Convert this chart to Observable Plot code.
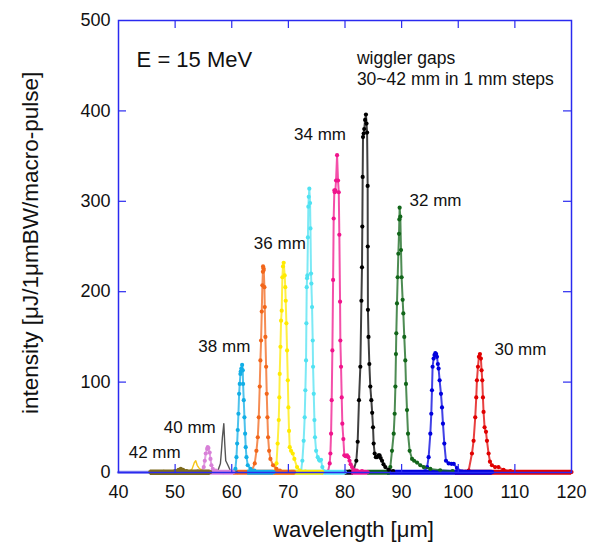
<!DOCTYPE html>
<html><head><meta charset="utf-8">
<script src="https://cdn.jsdelivr.net/npm/d3@7"></script>
<script src="https://cdn.jsdelivr.net/npm/@observablehq/plot@0.6"></script>
<style>body{margin:0;background:#fff;}</style>
</head><body><div id="chart"></div>
<script>
// ---- data ----
const xTicks = [40, 50, 60, 70, 80, 90, 100, 110, 120];
const yTicks = [0, 100, 200, 300, 400, 500];
const xInnerTicks = [50, 60, 70, 80, 90, 100, 110];
const yInnerTicks = [100, 200, 300, 400];

// [wavelength µm, intensity] per wiggler gap
const gap30 = [[99.5,0.5],[101.3,0.8],[101.83,2],[102.42,21],[102.71,35],[103.0,61],[103.18,83],[103.3,102],[103.48,117],[103.65,128],[103.83,131],[104.0,126],[104.12,113],[104.24,102],[104.36,83],[104.47,67],[104.65,50],[104.9,45],[105.07,35],[105.36,21],[105.6,12],[105.95,8],[106.5,6],[107.1,6],[108,3],[109.2,1.5],[110,0.8],[120,0.5]];
const gap31 = [[87.5,0.5],[94.0,1],[94.5,6],[94.77,17],[95.07,43],[95.24,65],[95.36,91],[95.47,117],[95.65,126],[95.8,130],[95.95,132],[96.1,131],[96.24,128],[96.4,120],[96.53,115],[96.71,102],[96.95,87],[97.13,72],[97.3,54],[97.54,32],[97.83,13],[98.3,10],[98.8,9.6],[99.2,9.6],[99.77,5],[100.65,1],[106,0.5]];
const gap32 = [[84,0.5],[87.5,1],[88,6],[88.3,24],[88.6,43],[88.77,65],[88.9,95],[89.0,131],[89.06,154],[89.18,187],[89.3,216],[89.42,242],[89.54,264],[89.6,280],[89.65,293],[89.77,283],[89.89,246],[90.0,216],[90.18,191],[90.3,176],[90.47,150],[90.65,124],[90.77,98],[90.95,69],[91.13,43],[91.42,24],[91.84,15],[92.2,13],[92.72,11],[93.3,8],[93.9,6],[95.07,4],[96.8,2.5],[99,1.5]];
const gap33 = [[80.0,0.5],[80.8,1],[81.5,2.2],[82.0,13],[82.24,34],[82.47,80],[82.71,117],[82.9,190],[83.0,227],[83.06,272],[83.12,327],[83.18,371],[83.3,375],[83.4,380],[83.55,390],[83.7,396],[83.8,386],[83.9,376],[84.0,317],[84.02,250],[84.05,180],[84.15,150],[84.3,120],[84.47,95],[84.65,80],[84.8,66],[84.95,50],[85.06,32],[85.24,21],[85.45,17],[85.65,17],[85.9,19],[86.1,19],[86.3,16],[86.54,13],[86.8,9],[87.12,6],[87.7,3],[88.5,1.5]];
const gap34 = [[76.5,0.5],[77.0,1],[77.3,10],[77.42,21],[77.54,43],[77.65,80],[77.77,135],[77.9,213],[78.0,281],[78.12,312],[78.2,310],[78.3,312],[78.42,323],[78.6,351],[78.77,323],[78.9,310],[79.0,263],[79.13,189],[79.18,146],[79.3,117],[79.42,83],[79.53,54],[79.71,37],[79.88,19],[80.1,18],[80.36,19],[80.6,17],[80.8,13],[81.0,9],[81.24,6],[81.6,3],[82.1,2],[83,1.5],[84,0.5]];
const gap35 = [[70.5,0.5],[71.5,0.5],[72.24,1],[72.47,13],[72.7,35],[72.88,61],[73.0,91],[73.12,124],[73.18,165],[73.24,205],[73.3,215],[73.36,218],[73.45,260],[73.53,294],[73.6,305],[73.7,314],[73.83,298],[73.9,270],[74.0,220],[74.06,209],[74.18,183],[74.3,146],[74.36,117],[74.48,87],[74.6,58],[74.7,39],[74.9,24],[75.18,17],[75.4,14],[75.54,13],[75.77,14],[76.0,6],[76.36,1],[78,0.5],[80,0.5]];
const gap36 = [[67.5,0.5],[67.9,10],[68.1,32],[68.3,58],[68.4,83],[68.47,109],[68.6,139],[68.71,168],[68.82,179],[68.94,216],[69.05,228],[69.17,232],[69.35,218],[69.45,205],[69.53,190],[69.65,165],[69.77,135],[69.9,102],[70.0,72],[70.12,46],[70.24,28],[70.47,24],[70.77,21],[71.06,15],[71.53,6],[72,2],[73,1],[76,0.5]];
const gap37 = [[61,0.5],[63.5,1],[64.06,10],[64.36,24],[64.6,39],[64.77,61],[64.94,95],[65.06,124],[65.18,146],[65.3,178],[65.41,207],[65.5,222],[65.53,228],[65.6,226],[65.65,224],[65.77,205],[65.83,183],[65.94,150],[66.07,117],[66.18,87],[66.3,61],[66.42,39],[66.6,24],[66.83,15],[67.3,8],[67.9,4],[68.5,2],[71,0.5]];
const gap38 = [[58.5,0.5],[60.3,1],[60.65,4],[60.83,17],[60.95,32],[61.06,47],[61.18,65],[61.3,87],[61.41,98],[61.53,109],[61.6,112],[61.7,115],[61.83,119],[61.95,113],[62.0,98],[62.12,80],[62.24,61],[62.36,43],[62.47,28],[62.6,17],[62.83,8],[63.3,4],[64,2],[67.4,0.5]];
const gap39 = [[56.5,0.5],[57.5,1],[58.0,10],[58.18,24],[58.35,39],[58.6,54],[58.76,32],[58.94,13],[59.18,10],[59.47,6],[59.77,2],[61,0.5]];
const gap40 = [[53.5,0.5],[54.5,1],[55.06,6],[55.24,13],[55.41,21],[55.65,26],[55.76,28],[55.88,27],[56.1,22],[56.24,15],[56.41,8],[56.65,4],[57.2,2],[60.3,0.5]];
const gap41 = [[50.5,0.5],[52.5,1],[53.0,4],[53.4,11],[53.65,13],[53.9,8],[54.2,5],[54.8,2],[55.5,0.5]];
const gap42 = [[45.6,0.5],[48,0.8],[50,1.5],[50.6,3],[51.0,4],[51.4,3],[52,1.5],[54,1],[56.2,0.5]];
const extraBase = [[40,0.3],[45.6,0.3]];

// visible baseline spans of each spectrum [from, to] (µm)
const baseSpans = {30:[99.5,120],31:[87.5,106],32:[84,88],33:[80,81.5],34:[81.2,84],35:[70.5,80],36:[67.5,76.2],37:[60.3,71.2],38:[62.8,67.4],40:[53.5,60.3],42:[45.6,56.2]};

const labelText = ["30 mm", "32 mm", "34 mm", "36 mm", "38 mm", "40 mm", "42 mm"];
const labelX = [106.4, 91.4, 71.0, 63.9, 54.1, 48.0, 41.8];
const labelY = [136, 301, 374, 253.6, 139.5, 50.2, 22];

// ---- styles ----
const colors = {30:"#e00000",31:"#0000dd",32:"#12661a",33:"#000000",34:"#f0148c",35:"#50e2f2",36:"#ffea00",37:"#f2661a",38:"#12aee6",39:"#555555",40:"#d880d8",41:"#f5c518",42:"#7d6a1c"};
const seriesData = {30:gap30,31:gap31,32:gap32,33:gap33,34:gap34,35:gap35,36:gap36,37:gap37,38:gap38,39:gap39,40:gap40,41:gap41,42:gap42};
const noDots = new Set([39, 41]);
const blue = "#2a2af0";

const marks = [];
marks.push(Plot.line(extraBase, {x: d => d[0], y: d => d[1], stroke: "#8c8cf0", strokeWidth: 3}));
for (const g of [30,31,32,33,34,35,36,37,38,39,40,41,42]) {
  const pts = seriesData[g];
  const c = colors[g];
  if (baseSpans[g]) {
    marks.push(Plot.ruleY([0.3], {x1: baseSpans[g][0], x2: baseSpans[g][1], stroke: c, strokeWidth: g === 42 ? 5.5 : 5}));
  }
  marks.push(Plot.line(pts, {x: d => d[0], y: d => d[1], stroke: c, strokeWidth: noDots.has(g) ? 1.4 : 2, strokeOpacity: noDots.has(g) ? 1 : 0.75}));
  if (!noDots.has(g)) marks.push(Plot.dot(pts, {x: d => d[0], y: d => d[1], fill: c, r: 2.1}));
}

marks.push(Plot.frame({stroke: blue, strokeWidth: 1.5}));
marks.push(Plot.ruleX(xInnerTicks, {x: d => d, stroke: blue, strokeWidth: 1.2, insetTop: 444}));
marks.push(Plot.ruleX(xInnerTicks, {x: d => d, stroke: blue, strokeWidth: 1.2, insetBottom: 444}));
marks.push(Plot.ruleY(yInnerTicks, {y: d => d, stroke: blue, strokeWidth: 1.2, insetRight: 445}));
marks.push(Plot.ruleY(yInnerTicks, {y: d => d, stroke: blue, strokeWidth: 1.2, insetLeft: 445}));

marks.push(Plot.text(labelText, {x: (d, i) => labelX[i], y: (d, i) => labelY[i], text: d => d, textAnchor: "start", fontSize: 17, fill: "#111"}));
marks.push(Plot.text(["E = 15 MeV"], {x: 43.2, y: 456, text: d => d, textAnchor: "start", fontSize: 22, fill: "#111"}));
marks.push(Plot.text(["wiggler gaps", "30~42 mm in 1 mm steps"], {x: 82.1, y: (d, i) => [458, 435][i], text: d => d, textAnchor: "start", fontSize: 17.5, fill: "#111"}));
marks.push(Plot.text(["wavelength [μm]"], {x: 81.5, y: -71.6, text: d => d, lineAnchor: "bottom", fontSize: 22, fill: "#111"}));
marks.push(Plot.text(["intensity [μJ/1μmBW/macro-pulse]"], {x: 25.7, y: 254, text: d => d, rotate: -90, lineAnchor: "bottom", fontSize: 22.5, fill: "#111"}));

const chart = Plot.plot({
  width: 592, height: 542,
  marginLeft: 118, marginRight: 21, marginTop: 20, marginBottom: 70,
  style: {fontFamily: "'Liberation Sans', Arial, sans-serif", fontSize: "18px", color: "#111", background: "#fff"},
  x: {domain: [40, 120], ticks: xTicks, tickSize: 0, tickPadding: 13, label: null},
  y: {domain: [0, 500], ticks: yTicks, tickSize: 0, tickPadding: 8, label: null},
  marks
});
document.getElementById("chart").appendChild(chart);
</script>
</body></html>
